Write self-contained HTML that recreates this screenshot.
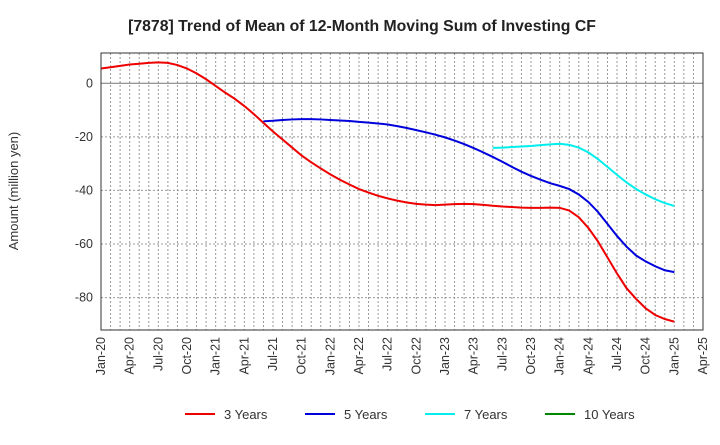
<!DOCTYPE html>
<html><head><meta charset="utf-8"><style>
body{margin:0;background:#fff;font-family:"Liberation Sans",sans-serif}
</style></head><body>
<svg id="c" width="720" height="440" xmlns="http://www.w3.org/2000/svg" font-family="Liberation Sans, sans-serif">
<text x="362" y="31" text-anchor="middle" font-size="15.8" font-weight="bold" fill="#222">[7878]  Trend of Mean of 12-Month Moving Sum of Investing CF</text>
<text transform="translate(18,191) rotate(-90)" text-anchor="middle" font-size="13" fill="#333">Amount (million yen)</text>
<g id="grid"></g><g id="ticks"></g><g id="series"></g>
<rect x="101" y="53" width="602" height="277" fill="none" stroke="#333" stroke-width="1"/>
<g id="legend"></g>
</svg>
<script>
const xLabels=["Jan-20","Apr-20","Jul-20","Oct-20","Jan-21","Apr-21","Jul-21","Oct-21","Jan-22","Apr-22","Jul-22","Oct-22","Jan-23","Apr-23","Jul-23","Oct-23","Jan-24","Apr-24","Jul-24","Oct-24","Jan-25","Apr-25"];
const yTicks=[0,-20,-40,-60,-80];
const s3=[5.5,6,6.5,7,7.3,7.6,7.8,7.6,6.8,5.5,3.7,1.5,-1,-3.5,-5.8,-8.5,-11.5,-14.8,-18,-21,-24,-27,-29.5,-31.8,-34,-36,-37.8,-39.5,-40.8,-42,-43,-43.8,-44.5,-45,-45.3,-45.5,-45.3,-45.1,-45,-45.1,-45.4,-45.7,-46,-46.2,-46.4,-46.5,-46.5,-46.4,-46.5,-47.5,-50,-54,-59,-65,-71,-76.5,-80.5,-84,-86.5,-88,-89];
const s3Start=0;
const s5=[-14.2,-14,-13.7,-13.5,-13.4,-13.4,-13.5,-13.7,-13.9,-14.1,-14.4,-14.7,-15,-15.4,-16,-16.7,-17.5,-18.3,-19.2,-20.2,-21.4,-22.7,-24.2,-25.8,-27.5,-29.3,-31.2,-33,-34.6,-36,-37.3,-38.3,-39.5,-41.5,-44.3,-48,-52.5,-57,-61,-64.3,-66.5,-68.3,-69.8,-70.5];
const s5Start=17;
const s7=[-24.1,-24,-23.8,-23.6,-23.4,-23.1,-22.8,-22.6,-23,-24,-25.8,-28.3,-31.2,-34.2,-37,-39.5,-41.5,-43.3,-44.7,-45.8];
const s7Start=41;
const s10=[];
const s10Start=0;
const ns="http://www.w3.org/2000/svg";
const X0=101,X1=703,Y0=53,Y1=330,yMax=11.3,yMin=-92.1,nM=63;
const xs=m=>X0+(X1-X0)*m/nM;
const ys=v=>Y0+(yMax-v)/(yMax-yMin)*(Y1-Y0);
function mk(t,a,p){const e=document.createElementNS(ns,t);for(const k in a)e.setAttribute(k,a[k]);p.appendChild(e);return e;}
const grid=document.getElementById('grid'),ticks=document.getElementById('ticks');
for(let m=1;m<nM;m++){const l=mk('line',{x1:xs(m),x2:xs(m),y1:Y0,y2:Y1,stroke:'#999','stroke-dasharray':'2,2','stroke-width':1},grid);

}
yTicks.forEach(v=>{const l=mk('line',{x1:X0,x2:X1,y1:ys(v),y2:ys(v),stroke:v===0?'#777':'#999','stroke-dasharray':v===0?'':'2,2','stroke-width':1},grid);


const t=mk('text',{x:X0-8,y:ys(v)+4,'text-anchor':'end','font-size':12.5,fill:'#333'},ticks);t.textContent=v;

});
xLabels.forEach((lb,i)=>{const x=xs(i*3);const t=mk('text',{transform:`translate(${x+4},337) rotate(-90)`,'text-anchor':'end','font-size':12.5,fill:'#333'},ticks);t.textContent=lb;

});
const ser=document.getElementById('series');
function line(d,st,col,name){if(!d.length)return;const p=mk('polyline',{points:d.map((v,i)=>xs(st+i)+','+ys(v)).join(' '),fill:'none',stroke:col,'stroke-width':2},ser);

}
line(s3,s3Start,'#ee0000','line-3-years');
line(s5,s5Start,'#0000dd','line-5-years');
line(s7,s7Start,'#00eeee','line-7-years');
line(s10,s10Start,'#008800','line-10-years');
const leg=document.getElementById('legend');
[["3 Years","#ee0000",185],["5 Years","#0000dd",305],["7 Years","#00eeee",425],["10 Years","#008800",545]].forEach(([n,c,x])=>{
const g=mk('g',{},leg);


mk('line',{x1:x,x2:x+30,y1:414,y2:414,stroke:c,'stroke-width':2},g);
const t=mk('text',{x:x+39,y:419,'font-size':13,fill:'#333'},g);t.textContent=n;});
</script>
</body></html>
